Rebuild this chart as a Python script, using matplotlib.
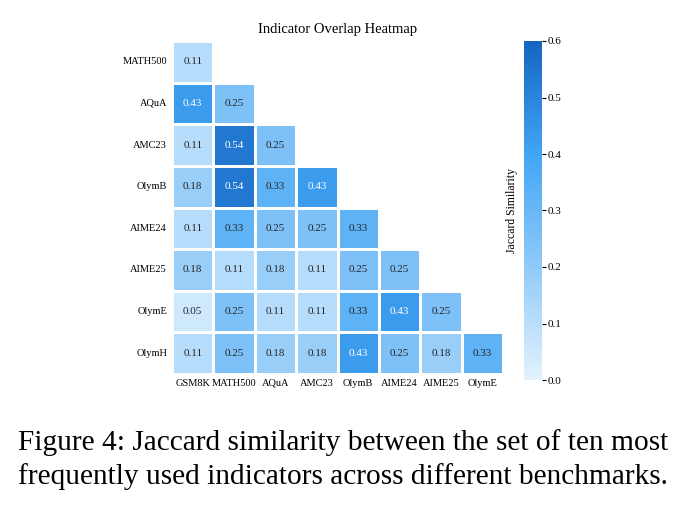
import numpy as np
import matplotlib
matplotlib.use("Agg")
from matplotlib import pyplot as plt
from matplotlib.colors import LinearSegmentedColormap
import seaborn as sns

row_labels = ["MATH500", "AQuA", "AMC23", "OlymB", "AIME24", "AIME25", "OlymE", "OlymH"]
col_labels = ["GSM8K", "MATH500", "AQuA", "AMC23", "OlymB", "AIME24", "AIME25", "OlymE"]

# lower triangle rows
r_math500 = [0.11]
r_aqua = [0.43, 0.25]
r_amc23 = [0.11, 0.54, 0.25]
r_olymb = [0.18, 0.54, 0.33, 0.43]
r_aime24 = [0.11, 0.33, 0.25, 0.25, 0.33]
r_aime25 = [0.18, 0.11, 0.18, 0.11, 0.25, 0.25]
r_olyme = [0.05, 0.25, 0.11, 0.11, 0.33, 0.43, 0.25]
r_olymh = [0.11, 0.25, 0.18, 0.18, 0.43, 0.25, 0.18, 0.33]
rows = [r_math500, r_aqua, r_amc23, r_olymb, r_aime24, r_aime25, r_olyme, r_olymh]


def main():
    n = len(rows)
    data = np.full((n, n), np.nan)
    for i, r in enumerate(rows):
        data[i, :len(r)] = r
    mask = np.isnan(data)

    plt.rcParams['font.family'] = ['Liberation Serif', 'DejaVu Serif']
    cmap = LinearSegmentedColormap.from_list(
        "blues", ["#E3F2FD", "#90CAF9", "#42A5F5", "#1565C0"])

    fig = plt.figure(figsize=(6.86, 5.08), dpi=100)
    ax = fig.add_axes([172 / 686, 1 - 374 / 508, 331 / 686, 333 / 508])
    cax = fig.add_axes([524 / 686, 1 - 380 / 508, 18 / 686, 339 / 508])

    sns.heatmap(data, mask=mask, cmap=cmap, vmin=0, vmax=0.6, annot=True, fmt=".2f",
                annot_kws={"size": 8}, linewidths=1, linecolor="white",
                xticklabels=col_labels, yticklabels=row_labels,
                ax=ax, cbar_ax=cax, cbar_kws={"label": "Jaccard Similarity"})

    ax.tick_params(length=0, labelsize=7.5)
    ax.set_yticklabels(row_labels, rotation=0)
    ax.set_xticklabels(col_labels, rotation=0)
    ax.set_title("Indicator Overlap Heatmap", fontsize=10.5, pad=6)

    cax.tick_params(labelsize=8, length=3, pad=1)
    cax.set_yticks(np.arange(0, 0.61, 0.1))
    cax.yaxis.set_label_position('left')
    cax.set_ylabel("Jaccard Similarity", fontsize=8.5, labelpad=4)

    fig.text(0.5, 1 - 443 / 508, "Figure 4: Jaccard similarity between the set of ten most",
             ha="center", va="center", fontsize=21.2)
    fig.text(0.5, 1 - 477 / 508, "frequently used indicators across different benchmarks.",
             ha="center", va="center", fontsize=21.2)

    fig.savefig("out.png", dpi=100)


if __name__ == '__main__':
    main()
